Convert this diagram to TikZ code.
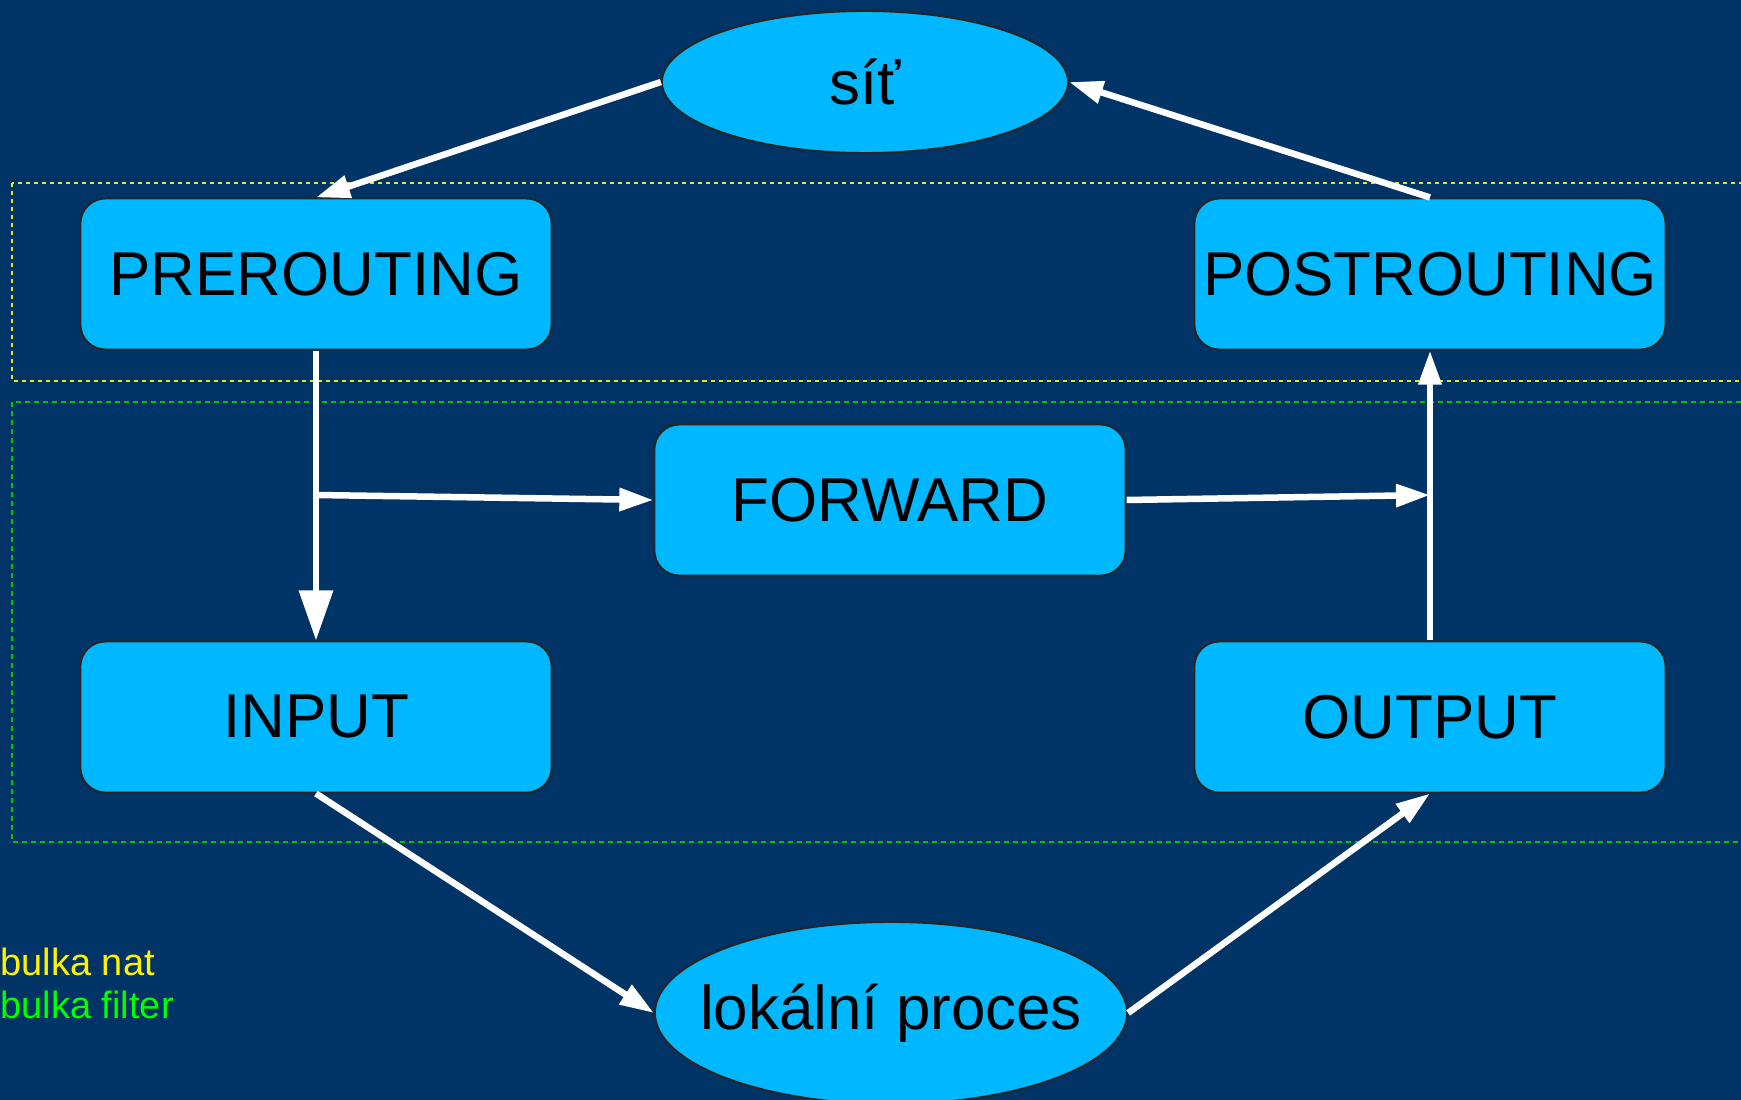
\documentclass[tikz,border=0pt]{standalone}
\usepackage{fontspec}
\setmainfont{Liberation Sans}
\usepackage{xcolor}
\usetikzlibrary{arrows.meta,shapes.geometric}
\definecolor{slidebg}{RGB}{0,51,102}
\definecolor{chainfill}{RGB}{0,184,255}
\definecolor{natyellow}{RGB}{230,230,40}
\definecolor{filtergreen}{RGB}{0,200,0}
\tikzset{
  chainbox/.style={
    rectangle,
    rounded corners=2.5mm,
    draw=black!85,
    line width=0.2mm,
    fill=chainfill,
    minimum width=4.71cm,
    minimum height=1.51cm,
    inner sep=0pt,
    font=\fontsize{17.6pt}{20pt}\selectfont
  },
  chainend/.style={chainbox,ellipse,rounded corners=0pt,inner xsep=-3mm},
  pktflow/.style={-{Triangle[length=3.4mm,width=2.2mm]},line width=0.65mm,white},
  pktbigflow/.style={-{Triangle[length=5mm,width=3.3mm]},line width=0.65mm,white},
  natframe/.style={draw=natyellow,dashed,dash pattern=on 0.4mm off 0.4mm,line width=0.12mm},
  filterframe/.style={draw=filtergreen,dashed,dash pattern=on 0.5mm off 0.4mm,line width=0.15mm},
  legendtext/.style={anchor=base west,inner sep=0pt,font=\fontsize{10.8pt}{13pt}\selectfont}
}
\begin{document}
\begin{tikzpicture}[x=0.01cm,y=-0.01cm]
  \useasboundingbox (0,0) rectangle (1741,1100);
  \fill[slidebg] (0,0) rectangle (1741,1100);

  % table frames
  \draw[natframe] (12,183) rectangle (1760,381);
  \draw[filterframe] (12,402) rectangle (1760,842);

  \node[chainend,minimum width=4.06cm,minimum height=1.42cm] (net) at (865,82) {síť};
  \node[chainbox] (prerouting) at (316,274) {PREROUTING};
  \node[chainbox] (postrouting) at (1430,274) {POSTROUTING};
  \node[chainbox] (forward) at (890,500) {FORWARD};
  \node[chainbox] (input) at (316,717) {INPUT};
  \node[chainbox] (output) at (1430,717) {OUTPUT};
  \node[chainend,minimum width=4.72cm,minimum height=1.82cm] (local) at (891,1013) {lokální proces};

  \coordinate (split) at (316,495);
  \coordinate (join) at (1430,495);

  \draw[pktflow] (net.west) -- (prerouting.north);
  \draw[pktflow] (postrouting.north) -- (net.east);
  \draw[pktbigflow] (prerouting.south) -- (input.north);
  \draw[pktflow] (split) -- (forward.west);
  \draw[pktflow] (forward.east) -- (join);
  \draw[pktflow] (output.north) -- (postrouting.south);
  \draw[pktflow] (input.south) -- (local.west);
  \draw[pktflow] (local.east) -- (output.south);

  % legend
  \node[legendtext,text=yellow] (legnat) at (0,975) {bulka nat};
  \node[legendtext,text=green] (legfilter) at (0,1018) {bulka filter};
\end{tikzpicture}
\end{document}
